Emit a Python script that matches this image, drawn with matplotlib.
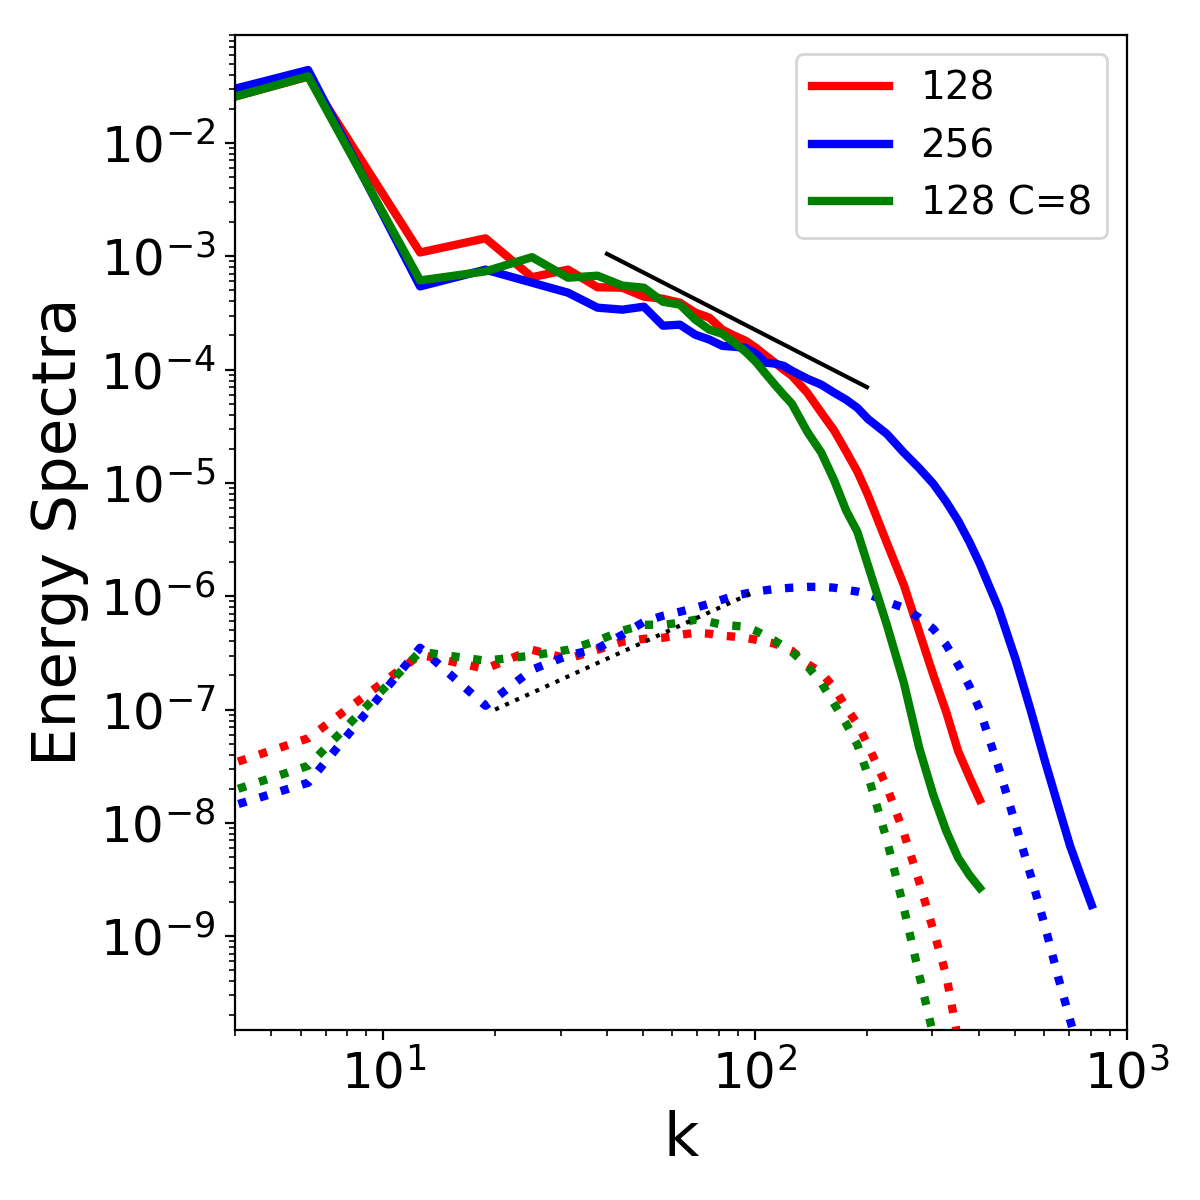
import numpy as np
import matplotlib
matplotlib.use("Agg")
import matplotlib.pyplot as plt
from matplotlib.ticker import LogLocator

# wavenumber index n, k = 2*pi*n (first bin at n = 0.5 lies left of the axis)
n_128 = [0.5, 1, 2, 3, 4, 5, 6, 7, 8, 9, 10, 11, 12, 13, 14, 15, 16, 17, 18, 19, 20,
         22, 24, 26, 28, 30, 32, 36, 40, 44, 48, 52, 56, 60, 64]
n_256 = n_128 + [72, 80, 88, 96, 104, 112, 120, 128]

# solid: energy spectra
e_128 = [0.0207, 0.0385, 1.08e-3, 1.44e-3, 6.54e-4, 7.62e-4, 5.33e-4, 5.28e-4, 4.40e-4,
         4.22e-4, 3.89e-4, 3.18e-4, 2.87e-4, 2.25e-4, 1.99e-4, 1.80e-4, 1.56e-4, 1.33e-4,
         1.15e-4, 9.98e-5, 8.83e-5, 6.25e-5, 4.17e-5, 2.89e-5, 1.89e-5, 1.26e-5, 7.87e-6,
         2.97e-6, 1.26e-6, 4.86e-7, 2.03e-7, 9.55e-8, 4.30e-8, 2.55e-8, 1.60e-8]
e_256 = [0.0246, 0.0440, 5.42e-4, 7.62e-4, 5.85e-4, 4.77e-4, 3.52e-4, 3.38e-4, 3.59e-4,
         2.44e-4, 2.49e-4, 2.03e-4, 1.84e-4, 1.62e-4, 1.59e-4, 1.56e-4, 1.38e-4, 1.15e-4,
         1.13e-4, 1.08e-4, 9.77e-5, 8.31e-5, 7.36e-5, 6.25e-5, 5.42e-5, 4.60e-5, 3.68e-5,
         2.71e-5, 1.85e-5, 1.35e-5, 9.84e-6, 6.83e-6, 4.64e-6, 3.03e-6, 1.94e-6,
         7.76e-7, 2.75e-7, 9.55e-8, 3.46e-8, 1.42e-8, 6.28e-9, 3.34e-9, 1.89e-9]
e_128c8 = [0.0206, 0.0387, 6.12e-4, 7.36e-4, 9.82e-4, 6.47e-4, 6.74e-4, 5.51e-4, 5.28e-4,
           3.97e-4, 3.74e-4, 2.76e-4, 2.25e-4, 2.07e-4, 1.73e-4, 1.44e-4, 1.17e-4, 9.20e-5,
           7.35e-5, 6.00e-5, 5.00e-5, 2.83e-5, 1.85e-5, 1.05e-5, 5.69e-6, 3.71e-6, 1.90e-6,
           5.61e-7, 1.73e-7, 4.60e-8, 1.77e-8, 8.51e-9, 4.92e-9, 3.48e-9, 2.67e-9]

# dotted: second spectrum of each run
n_dot_128 = [0.5, 1, 2, 3, 4, 5, 6, 7, 8, 9, 10, 11, 12, 13, 14, 15, 16, 18, 20,
             22, 24, 26, 28, 30, 32, 36, 40, 44, 48, 52, 56, 60, 64]
n_dot_256 = [0.5, 1, 2, 3, 4, 5, 6, 7, 8, 9, 10, 11, 12, 14, 16, 18, 20, 22, 24, 26, 28,
             30, 32, 36, 40, 44, 48, 52, 56, 60, 64, 72, 80, 88, 96, 104, 112, 120, 128]
d_128 = [2.62e-8, 5.58e-8, 3.05e-7, 2.29e-7, 3.37e-7, 2.81e-7, 3.37e-7, 3.97e-7, 4.21e-7,
         4.30e-7, 4.57e-7, 4.76e-7, 4.67e-7, 4.48e-7, 4.40e-7, 4.30e-7, 4.13e-7, 3.81e-7,
         3.30e-7, 2.54e-7, 2.11e-7, 1.56e-7, 1.04e-7, 7.50e-8, 4.90e-8, 2.08e-8, 8.18e-9,
         3.02e-9, 1.14e-9, 4.56e-10, 1.22e-10, 5.4e-11, 2.4e-11]
d_256 = [1.13e-8, 2.26e-8, 3.51e-7, 1.08e-7, 2.25e-7, 3.00e-7, 3.46e-7, 4.57e-7, 5.95e-7,
         6.73e-7, 7.30e-7, 7.92e-7, 8.59e-7, 1.01e-6, 1.10e-6, 1.16e-6, 1.19e-6, 1.21e-6,
         1.21e-6, 1.19e-6, 1.14e-6, 1.10e-6, 1.05e-6, 8.93e-7, 7.92e-7, 6.46e-7, 5.16e-7,
         3.73e-7, 2.48e-7, 1.62e-7, 9.95e-8, 3.06e-8, 9.61e-9, 3.34e-9, 1.21e-9, 4.38e-10,
         1.83e-10, 8.1e-11, 3.6e-11]
d_128c8 = [1.51e-8, 3.19e-8, 3.24e-7, 2.70e-7, 2.99e-7, 3.37e-7, 4.05e-7, 4.97e-7, 5.60e-7,
           5.60e-7, 5.83e-7, 6.20e-7, 5.95e-7, 5.60e-7, 5.49e-7, 5.38e-7, 4.95e-7, 4.05e-7,
           3.24e-7, 2.43e-7, 1.72e-7, 1.12e-7, 7.50e-8, 4.90e-8, 2.66e-8, 7.10e-9, 1.78e-9,
           4.56e-10, 1.35e-10, 4.4e-11, 1.6e-11, 6e-12, 2.5e-12]

# reference slopes (-5/3 and 3/2)
ref_k53 = [40, 200]
ref_e53 = [1.05e-3, 7.0e-5]
ref_k32 = [20, 100]
ref_e32 = [1.0e-7, 1.1e-6]


def wavenumber(n):
    return 2 * np.pi * np.asarray(n)


fig, ax = plt.subplots(figsize=(6, 6), dpi=200)
fig.subplots_adjust(left=0.196, right=0.939, top=0.971, bottom=0.142)

ax.plot(wavenumber(n_128), e_128, color="red", lw=3, label="128")
ax.plot(wavenumber(n_dot_128), d_128, color="red", lw=3, ls=":")
ax.plot(wavenumber(n_256), e_256, color="blue", lw=3, label="256")
ax.plot(wavenumber(n_dot_256), d_256, color="blue", lw=3, ls=":")
ax.plot(wavenumber(n_128), e_128c8, color="green", lw=3, label="128 C=8")
ax.plot(wavenumber(n_dot_128), d_128c8, color="green", lw=3, ls=":")

ax.plot(ref_k53, ref_e53, color="black", lw=1.5)
ax.plot(ref_k32, ref_e32, color="black", lw=1.5, ls=":")

ax.set_xscale("log")
ax.set_yscale("log")
ax.set_xlim(4, 1000)
ax.set_ylim(1.5e-10, 0.09)
ax.yaxis.set_major_locator(LogLocator(base=10, numticks=20))
ax.tick_params(labelsize=18)
ax.set_xlabel("k", fontsize=22)
ax.set_ylabel("Energy Spectra", fontsize=22)
ax.legend(loc="upper right", fontsize=14)

fig.savefig("out.png", dpi=200)
